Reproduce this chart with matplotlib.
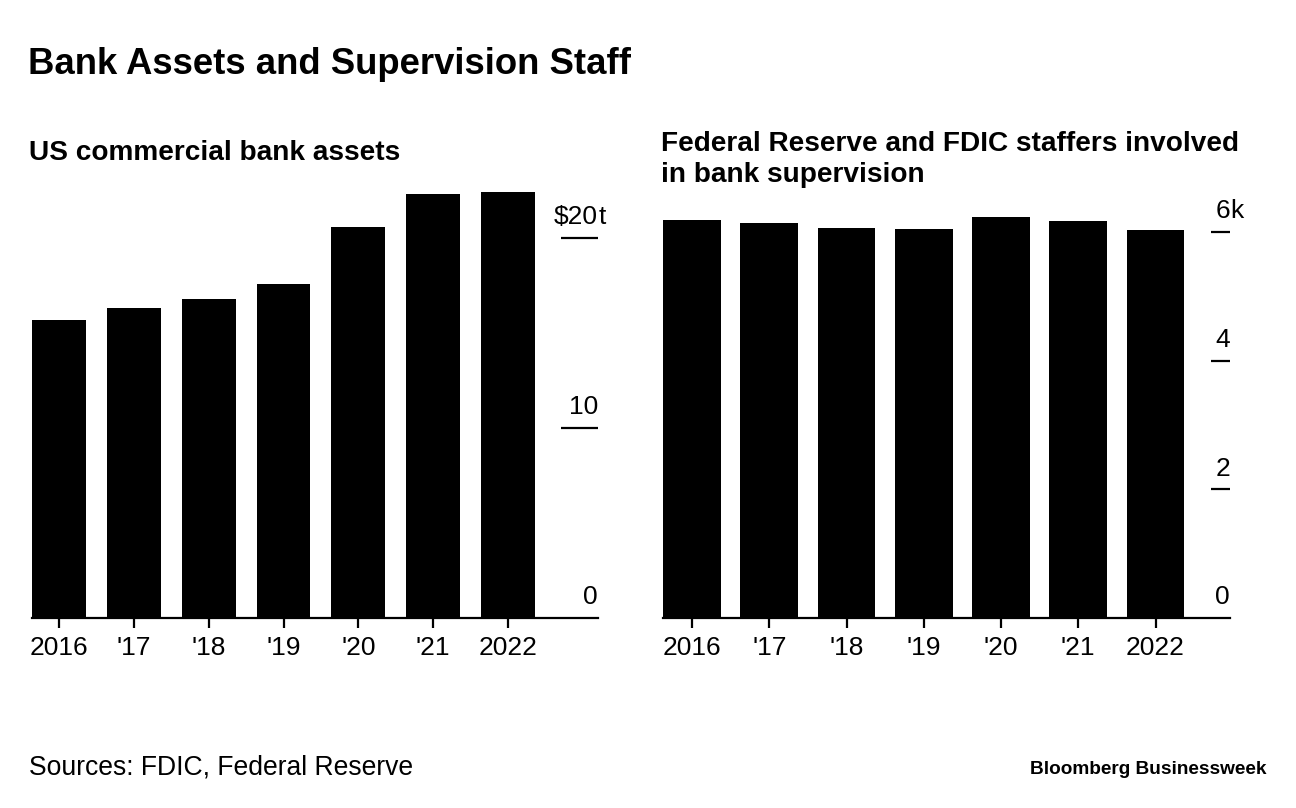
import matplotlib
matplotlib.use("Agg")
import matplotlib.pyplot as plt

plt.rcParams['font.family'] = ['Liberation Sans', 'DejaVu Sans']

years = ["2016", "'17", "'18", "'19", "'20", "'21", "2022"]
assets_trillions = [15.7, 16.3, 16.8, 17.6, 20.6, 22.3, 22.4]
staff_thousands = [6.19, 6.15, 6.07, 6.05, 6.24, 6.17, 6.04]

assets_ticks = [0, 10, 20]
assets_tick_labels = ["0", "10", "$20"]
assets_suffix = "t"
staff_ticks = [0, 2, 4, 6]
staff_tick_labels = ["0", "2", "4", "6"]
staff_suffix = "k"

title = "Bank Assets and Supervision Staff"
left_sub = "US commercial bank assets"
right_sub_lines = ["Federal Reserve and FDIC staffers involved",
                   "in bank supervision"]
source = "Sources: FDIC, Federal Reserve"
brand = "Bloomberg Businessweek"

W, H = 1296, 808
fig = plt.figure(figsize=(W / 100, H / 100), dpi=100)
fig.patch.set_facecolor("white")

TICK_FS = 19


def px(x, y):
    return x / W, 1 - y / H


def make_axes(left_px, right_px, base_px, top_px):
    l, b = left_px / W, (H - base_px) / H
    w = (right_px - left_px) / W
    h = (base_px - top_px) / H
    return fig.add_axes([l, b, w, h])


def draw_panel(ax, values, width, xlim, ylim, ticks, labels, suffix, tick_x0):
    x = list(range(len(values)))
    ax.bar(x, values, width=width, color="black", zorder=2)
    ax.set_xlim(*xlim)
    ax.set_ylim(*ylim)
    for s in ["top", "right", "left"]:
        ax.spines[s].set_visible(False)
    ax.spines["bottom"].set_linewidth(1.6)
    ax.spines["bottom"].set_zorder(3)
    ax.set_yticks([])
    ax.set_xticks(x)
    ax.set_xticklabels(years)
    ax.tick_params(axis="x", direction="out", length=7, width=1.6,
                   pad=6, labelsize=TICK_FS, colors="black")
    ax.hlines(ticks[1:], tick_x0, xlim[1], colors="black", linewidth=1.6,
              zorder=3, clip_on=False)
    for i, (v, lab) in enumerate(zip(ticks, labels)):
        ax.annotate(lab, xy=(xlim[1], v), xytext=(0, 10),
                    textcoords="offset points", ha="right", va="baseline",
                    fontsize=TICK_FS, color="black")
        if i == len(ticks) - 1:
            ax.annotate(suffix, xy=(xlim[1], v), xytext=(0.5, 10),
                        textcoords="offset points", ha="left", va="baseline",
                        fontsize=TICK_FS, color="black")


# Left panel
ax1 = make_axes(32, 598, 618, 170)
pitch1 = (508 - 59) / 6
draw_panel(ax1, assets_trillions, 0.72,
           (-27 / pitch1, (598 - 59) / pitch1),
           (0, (618 - 170) / 19.0),
           assets_ticks, assets_tick_labels, assets_suffix,
           (561 - 59) / pitch1)

# Right panel
ax2 = make_axes(663, 1230, 618, 190)
pitch2 = (1155.5 - 692) / 6
draw_panel(ax2, staff_thousands, 0.75,
           (-29 / pitch2, (1230 - 692) / pitch2),
           (0, (618 - 190) / 64.3),
           staff_ticks, staff_tick_labels, staff_suffix,
           (1211 - 692) / pitch2)

# Texts
fig.text(*px(28, 74), title, fontsize=26.3, fontweight="bold",
         ha="left", va="baseline", color="black")
fig.text(*px(29, 160), left_sub, fontsize=20.2, fontweight="bold",
         ha="left", va="baseline", color="black")
for i, line in enumerate(right_sub_lines):
    fig.text(*px(661, 151 + 31 * i), line, fontsize=20.2, fontweight="bold",
             ha="left", va="baseline", color="black")
fig.text(*px(29, 775), source, fontsize=19.1, ha="left", va="baseline",
         color="black")
fig.text(*px(1267, 774), brand, fontsize=13.7, fontweight="bold",
         ha="right", va="baseline", color="black")

fig.savefig("out.png", dpi=100, facecolor="white")
